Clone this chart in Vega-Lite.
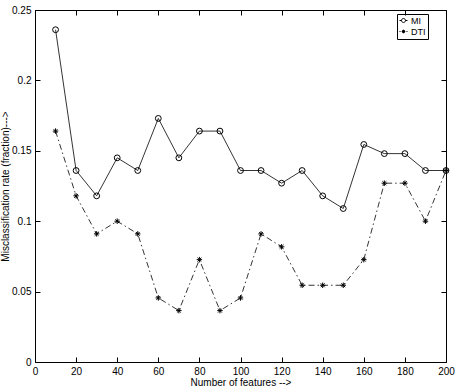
{
  "$schema": "https://vega.github.io/schema/vega-lite/v6.json",
  "autosize": "none",
  "width": 411,
  "height": 352,
  "padding": {"left": 35, "top": 10, "right": 11, "bottom": 26},
  "background": "white",
  "config": {
    "font": "Liberation Sans",
    "view": {"stroke": null},
    "axis": {
      "grid": false,
      "domainColor": "black",
      "domainWidth": 1,
      "tickColor": "black",
      "tickWidth": 1,
      "tickSize": -5,
      "labelFont": "Liberation Sans",
      "labelFontSize": 10,
      "labelColor": "black",
      "titleFont": "Liberation Sans",
      "titleFontSize": 10,
      "titleFontWeight": "normal",
      "titleColor": "black"
    }
  },
  "data": {
    "values": [
      {"x": 10, "rate": 0.236, "series": "MI"},
      {"x": 20, "rate": 0.136, "series": "MI"},
      {"x": 30, "rate": 0.118, "series": "MI"},
      {"x": 40, "rate": 0.145, "series": "MI"},
      {"x": 50, "rate": 0.136, "series": "MI"},
      {"x": 60, "rate": 0.173, "series": "MI"},
      {"x": 70, "rate": 0.145, "series": "MI"},
      {"x": 80, "rate": 0.164, "series": "MI"},
      {"x": 90, "rate": 0.164, "series": "MI"},
      {"x": 100, "rate": 0.136, "series": "MI"},
      {"x": 110, "rate": 0.136, "series": "MI"},
      {"x": 120, "rate": 0.127, "series": "MI"},
      {"x": 130, "rate": 0.136, "series": "MI"},
      {"x": 140, "rate": 0.118, "series": "MI"},
      {"x": 150, "rate": 0.109, "series": "MI"},
      {"x": 160, "rate": 0.1545, "series": "MI"},
      {"x": 170, "rate": 0.148, "series": "MI"},
      {"x": 180, "rate": 0.148, "series": "MI"},
      {"x": 190, "rate": 0.136, "series": "MI"},
      {"x": 200, "rate": 0.136, "series": "MI"},
      {"x": 10, "rate": 0.164, "series": "DTI"},
      {"x": 20, "rate": 0.118, "series": "DTI"},
      {"x": 30, "rate": 0.091, "series": "DTI"},
      {"x": 40, "rate": 0.1, "series": "DTI"},
      {"x": 50, "rate": 0.091, "series": "DTI"},
      {"x": 60, "rate": 0.0455, "series": "DTI"},
      {"x": 70, "rate": 0.0365, "series": "DTI"},
      {"x": 80, "rate": 0.0727, "series": "DTI"},
      {"x": 90, "rate": 0.0365, "series": "DTI"},
      {"x": 100, "rate": 0.0455, "series": "DTI"},
      {"x": 110, "rate": 0.091, "series": "DTI"},
      {"x": 120, "rate": 0.0818, "series": "DTI"},
      {"x": 130, "rate": 0.0545, "series": "DTI"},
      {"x": 140, "rate": 0.0545, "series": "DTI"},
      {"x": 150, "rate": 0.0545, "series": "DTI"},
      {"x": 160, "rate": 0.0727, "series": "DTI"},
      {"x": 170, "rate": 0.127, "series": "DTI"},
      {"x": 180, "rate": 0.127, "series": "DTI"},
      {"x": 190, "rate": 0.1, "series": "DTI"},
      {"x": 200, "rate": 0.136, "series": "DTI"}
    ]
  },
  "resolve": {"axis": {"x": "independent", "y": "independent"}},
  "layer": [
    {
      "transform": [{"filter": "datum.series === 'MI'"}],
      "mark": {"type": "line", "strokeWidth": 0.8},
      "encoding": {
        "x": {
          "field": "x", "type": "quantitative",
          "scale": {"domain": [0, 200], "nice": false},
          "axis": {"orient": "bottom", "values": [0, 20, 40, 60, 80, 100, 120, 140, 160, 180, 200], "labelPadding": 9, "title": "Number of features -->", "titlePadding": 1, "labelFlush": false}
        },
        "y": {
          "field": "rate", "type": "quantitative",
          "scale": {"domain": [0, 0.25], "nice": false, "zero": false},
          "axis": {"orient": "left", "values": [0, 0.05, 0.1, 0.15, 0.2, 0.25], "format": "~g", "labelPadding": 9, "title": "Misclassification rate (fraction)--->", "titlePadding": 1, "labelFlush": false}
        },
        "color": {
          "field": "series", "type": "nominal",
          "scale": {"domain": ["MI"], "range": ["black"]},
          "legend": {
            "title": null,
            "orient": "none",
            "legendX": 362,
            "legendY": 4,
            "padding": 2,
            "clipHeight": 9,
            "symbolType": "M-1,0L-0.5,0M0.5,0L1,0M-0.5,0A0.5,0.5 0 1,0 0.5,0A0.5,0.5 0 1,0 -0.5,0",
            "symbolSize": 64,
            "symbolStrokeWidth": 1,
            "symbolFillColor": "transparent",
            "symbolStrokeColor": "black",
            "labelFontSize": 9,
            "labelFont": "Liberation Sans",
            "labelColor": "black",
            "labelOffset": 3
          }
        }
      }
    },
    {
      "transform": [{"filter": "datum.series === 'DTI'"}],
      "mark": {"type": "line", "color": "black", "strokeWidth": 0.8},
      "encoding": {
        "x": {"field": "x", "type": "quantitative", "axis": null},
        "y": {"field": "rate", "type": "quantitative", "axis": null},
        "strokeDash": {
          "field": "series", "type": "nominal",
          "scale": {"domain": ["DTI"], "range": [[6, 3, 1.5, 3]]},
          "legend": {
            "title": " ",
            "titleFontSize": 9,
            "titlePadding": 2,
            "orient": "none",
            "legendX": 362,
            "legendY": 4,
            "strokeColor": "black",
            "padding": 2,
            "clipHeight": 9,
            "symbolType": "M-1,0L-0.75,0M0.75,0L1,0M-0.45,0L0.45,0M0,-0.45L0,0.45M-0.32,-0.32L0.32,0.32M-0.32,0.32L0.32,-0.32",
            "symbolSize": 64,
            "symbolStrokeWidth": 1,
            "symbolFillColor": "transparent",
            "symbolStrokeColor": "black",
            "labelFontSize": 9,
            "labelFont": "Liberation Sans",
            "labelColor": "black",
            "labelOffset": 3
          }
        }
      }
    },
    {
      "transform": [{"filter": "datum.series === 'MI'"}],
      "mark": {"type": "point", "shape": "circle", "filled": false, "stroke": "black", "strokeWidth": 1, "opacity": 1, "size": 34},
      "encoding": {
        "x": {
          "field": "x", "type": "quantitative",
          "axis": {"orient": "top", "values": [0, 20, 40, 60, 80, 100, 120, 140, 160, 180, 200], "labels": false, "title": null}
        },
        "y": {
          "field": "rate", "type": "quantitative",
          "axis": {"orient": "right", "values": [0, 0.05, 0.1, 0.15, 0.2, 0.25], "labels": false, "title": null}
        }
      }
    },
    {
      "transform": [{"filter": "datum.series === 'DTI'"}],
      "mark": {"type": "point", "shape": "M-1,0L1,0M0,-1L0,1M-0.7,-0.7L0.7,0.7M-0.7,0.7L0.7,-0.7", "filled": false, "stroke": "black", "strokeWidth": 1, "opacity": 1, "size": 30},
      "encoding": {
        "x": {"field": "x", "type": "quantitative", "axis": null},
        "y": {"field": "rate", "type": "quantitative", "axis": null}
      }
    }
  ]
}
